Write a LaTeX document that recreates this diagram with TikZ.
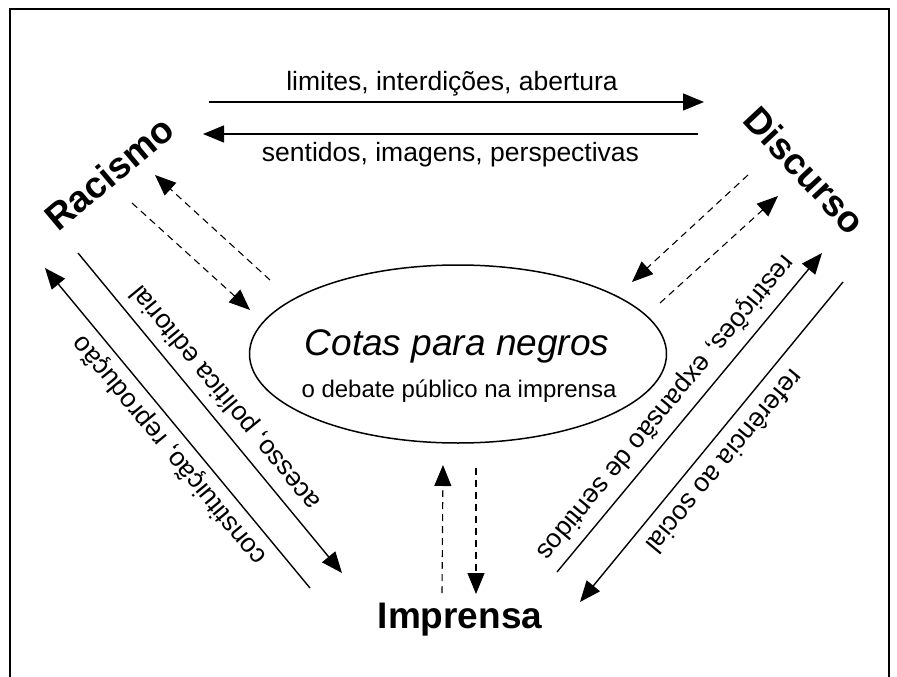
\documentclass[tikz,border=0pt]{standalone}
\usepackage{fontspec}
\setmainfont{Liberation Sans}
\usetikzlibrary{arrows.meta,shapes.geometric}

\begin{document}
\begin{tikzpicture}[x=1pt,y=-1pt,
  seta/.style={line width=1.4pt,-{Triangle[length=21pt,width=17pt]}},
  tracejada/.style={seta,line width=1.1pt,dash pattern=on 7pt off 5pt},
  rotulo/.style={font=\fontsize{26.5}{30}\selectfont,inner sep=0pt,anchor=base},
  polo/.style={font=\fontsize{37}{40}\selectfont\bfseries,inner sep=0pt,anchor=base}]
\useasboundingbox (0,0) rectangle (897,677);
\draw[line width=2pt] (9.5,677) -- (9.5,9.5) -- (889,9.5) -- (889,677);

% os tres polos e o tema
\node[polo,rotate=40] (racismo) at (117.6,183.2) {Racismo};
\node[polo,rotate=-47] (discurso) at (795.3,179.1) {Discurso};
\node[polo] (imprensa) at (460,628) {Imprensa};
\node[ellipse,draw,line width=1.5pt,minimum width=417pt,minimum height=178pt,inner sep=0pt] (cotas) at (458,354) {};
\node[font=\fontsize{37}{40}\selectfont\itshape,inner sep=0pt,anchor=base] (titulo) at (457,355) {Cotas para negros};
\node[font=\fontsize{24}{28}\selectfont,inner sep=0pt,anchor=base] (subtitulo) at (459,397) {o debate público na imprensa};

% pontas das setas
\coordinate (rd1) at (209,102);  \coordinate (rd2) at (704,102);
\coordinate (dr1) at (698,134);  \coordinate (dr2) at (203,134);
\coordinate (ri1) at (78,253);   \coordinate (ri2) at (342,573);
\coordinate (ir1) at (310,588);  \coordinate (ir2) at (45,268);
\coordinate (id1) at (557,572);  \coordinate (id2) at (822,253);
\coordinate (di1) at (843,282);  \coordinate (di2) at (580,602);
\coordinate (cr1) at (270,280);  \coordinate (cr2) at (155,175);
\coordinate (rc1) at (132,203);  \coordinate (rc2) at (250,310);
\coordinate (dc1) at (748,175);  \coordinate (dc2) at (632,282);
\coordinate (cd1) at (660,303);  \coordinate (cd2) at (778,196);
\coordinate (ic1) at (442,593);  \coordinate (ic2) at (443,465);
\coordinate (ci1) at (476,468);  \coordinate (ci2) at (476,594);

\draw[seta] (rd1) -- (rd2);
\draw[seta] (dr1) -- (dr2);
\draw[seta] (ri1) -- (ri2);
\draw[seta] (ir1) -- (ir2);
\draw[seta] (id1) -- (id2);
\draw[seta] (di1) -- (di2);
\draw[tracejada] (cr1) -- (cr2);
\draw[tracejada] (rc1) -- (rc2);
\draw[tracejada] (dc1) -- (dc2);
\draw[tracejada] (cd1) -- (cd2);
\draw[tracejada] (ic1) -- (ic2);
\draw[tracejada] (ci1) -- (ci2);

% rotulos
\node[rotulo] (limites) at (452,91) {limites, interdições, abertura};
\node[rotulo] (sentidos) at (450.5,161) {sentidos, imagens, perspectivas};
\node[rotulo,rotate=129.5] (acesso) at (231.3,392.6) {acesso, política editorial};
\node[rotulo,rotate=129.5] (constituicao) at (175.3,445.6) {constituição, reprodução};
\node[rotulo,rotate=-129.7] (restricoes) at (659.7,402.6) {restrições, expansão de sentidos};
\node[rotulo,rotate=-129.7] (referencia) at (717.7,455.6) {referência ao social};
\end{tikzpicture}
\end{document}
